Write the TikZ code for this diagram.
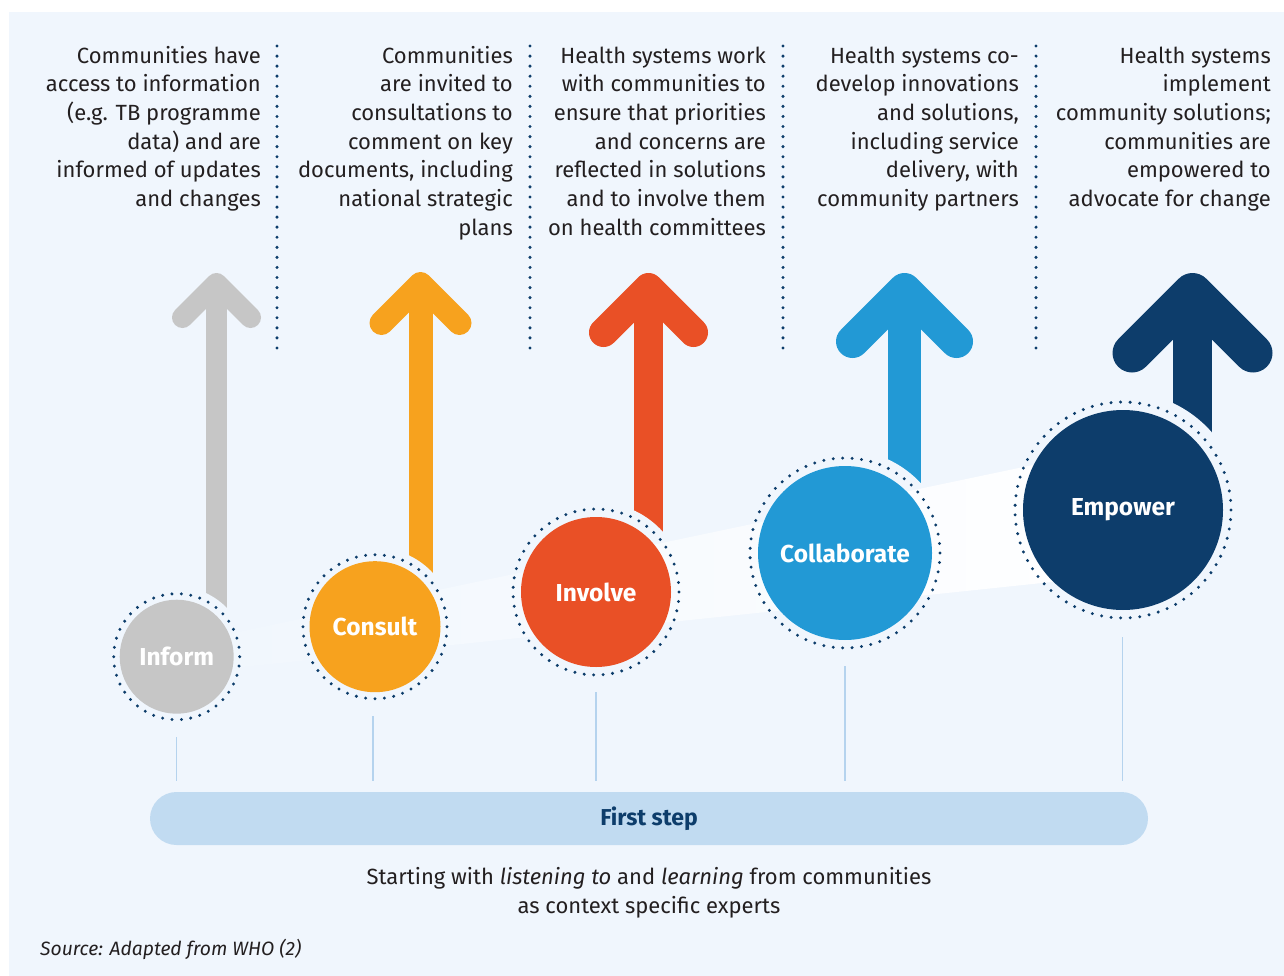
\documentclass[tikz,border=0pt]{standalone}
\usepackage{fontspec}
\setmainfont{Fira Sans}
\definecolor{bgc}{HTML}{F0F6FD}
\definecolor{greyc}{HTML}{C6C6C6}
\definecolor{orangec}{HTML}{F7A21E}
\definecolor{redc}{HTML}{E95026}
\definecolor{bluec}{HTML}{2299D5}
\definecolor{navyc}{HTML}{0D3D6B}
\definecolor{pillc}{HTML}{C1DBF1}
\definecolor{linec}{HTML}{B5D3EE}
\definecolor{txtc}{HTML}{231F20}
\begin{document}
\begin{tikzpicture}[x=1pt,y=-1pt,
  desc/.style={align=right, anchor=north east, inner sep=0pt, text=txtc,
    font=\fontsize{22}{28.7}\selectfont},
  sepline/.style={navyc, line width=3.4pt, line cap=round, dash pattern=on 0pt off 10.066pt},
  ringdots/.style={navyc, line width=3.3pt, line cap=round, dash pattern=on 0pt off #1},
  shaft/.style={line width=#1},
  head/.style={line width=#1, line cap=round, line join=round},
  stage/.style={circle, inner sep=0pt, text=white, font=\fontsize{24.5}{27}\selectfont\bfseries},
  tick/.style={linec, line width=1.2pt}]
\useasboundingbox (0,0) rectangle (1284,976);
\fill[white] (0,0) rectangle (1284,976);
\fill[bgc] (9,12) rectangle (1284,976);

% separators
\foreach \x in {277,530,783,1036} \draw[sepline] (\x,46) -- (\x,348);

% descriptions
\node[desc] (d1) at (261,42.9) {\strut Communities have\\access to information\\(e.g. TB programme\\data) and are\\informed of updates\\and changes};
\node[desc] (d2) at (513,42.9) {\strut Communities\\are invited to\\consultations to\\comment on key\\documents, including\\national strategic\\plans};
\node[desc] (d3) at (766,42.9) {\strut Health systems work\\with communities to\\ensure that priorities\\and concerns are\\reflected in solutions\\and to involve them\\on health committees};
\node[desc] (d4) at (1019,42.9) {\strut Health systems co-\\develop innovations\\and solutions,\\including service\\delivery, with\\community partners};
\node[desc] (d5) at (1271,42.9) {\strut Health systems\\implement\\community solutions;\\communities are\\empowered to\\advocate for change};

% circle centres
\coordinate (cI) at (176.7,656.7);
\coordinate (cC) at (375,626.7);
\coordinate (cV) at (596,592);
\coordinate (cL) at (845,553);
\coordinate (cE) at (1123,510);

% arrows
\draw[greyc, shaft=21pt] (216.5,283.5) -- (216.5,656.7);
\draw[greyc, head=21pt] (182.5,317.5) -- (216.5,283.5) -- (250.5,317.5);
\draw[orangec, shaft=24pt] (420.5,284) -- (420.5,626.7);
\draw[orangec, head=24pt] (381.5,323) -- (420.5,284) -- (459.5,323);
\draw[redc, shaft=29pt] (648.5,287.5) -- (648.5,592);
\draw[redc, head=29pt] (603.5,332.5) -- (648.5,287.5) -- (693.5,332.5);
\draw[bluec, shaft=33pt] (904.5,289.5) -- (904.5,553);
\draw[bluec, head=33pt] (852.5,341.5) -- (904.5,289.5) -- (956.5,341.5);
\draw[navyc, shaft=39pt] (1192.5,292.5) -- (1192.5,510);
\draw[navyc, head=39pt] (1132,353) -- (1192.5,292.5) -- (1253,353);

% halos
\fill[bgc] (cI) circle[radius=70];
\fill[bgc] (cC) circle[radius=79];
\fill[bgc] (cV) circle[radius=90];
\fill[bgc] (cL) circle[radius=103];
\fill[bgc] (cE) circle[radius=118];

% band
\shade[left color=bgc, right color=white] (177,644.8) -- (1123,446.1) -- (1123,574.5) -- (177,673.9) -- cycle;

% rings
\draw[ringdots=9.4248pt] (cI) circle[radius=63];
\draw[ringdots=9.4248pt] (cC) circle[radius=72];
\draw[ringdots=9.482pt] (cV) circle[radius=83];
\draw[ringdots=9.475pt] (cL) circle[radius=95];
\draw[ringdots=9.557pt] (cE) circle[radius=108];

% circles
\node[stage, fill=greyc, minimum size=114pt] (inform) at (cI) {Inform};
\node[stage, fill=orangec, minimum size=131pt] (consult) at (cC) {Consult};
\node[stage, fill=redc, minimum size=150pt] (involve) at (cV) {Involve};
\node[stage, fill=bluec, minimum size=174pt] (collab) at (cL) {Collaborate};
\node[stage, fill=navyc, minimum size=200pt] (empower) at (cE) {Empower};

% pill
\node[fill=pillc, rounded corners=26.5pt, minimum width=998pt, minimum height=53pt, inner sep=0pt,
  text=navyc, font=\fontsize{23}{26}\selectfont\bfseries] (pill) at (649,818.5) {First step};

% ticks
\coordinate (tI) at (176.5,737);
\coordinate (tC) at (373,716);
\coordinate (tV) at (596,692);
\coordinate (tL) at (845,666);
\coordinate (tE) at (1122.5,637);
\foreach \t in {tI,tC,tV,tL,tE} \draw[tick] (\t) -- (\t |- 0,781);

% caption
\node[align=center, anchor=north, inner sep=0pt, text=txtc, font=\fontsize{22}{28.7}\selectfont] (cap) at (649,864) {\strut Starting with \textit{listening to} and \textit{learning} from communities\\as context specific experts};
\node[anchor=base west, inner sep=0pt, text=txtc, font=\fontsize{19.3}{22}\selectfont\itshape] (src) at (40,955) {Source: Adapted from WHO (2)};
\end{tikzpicture}
\end{document}
